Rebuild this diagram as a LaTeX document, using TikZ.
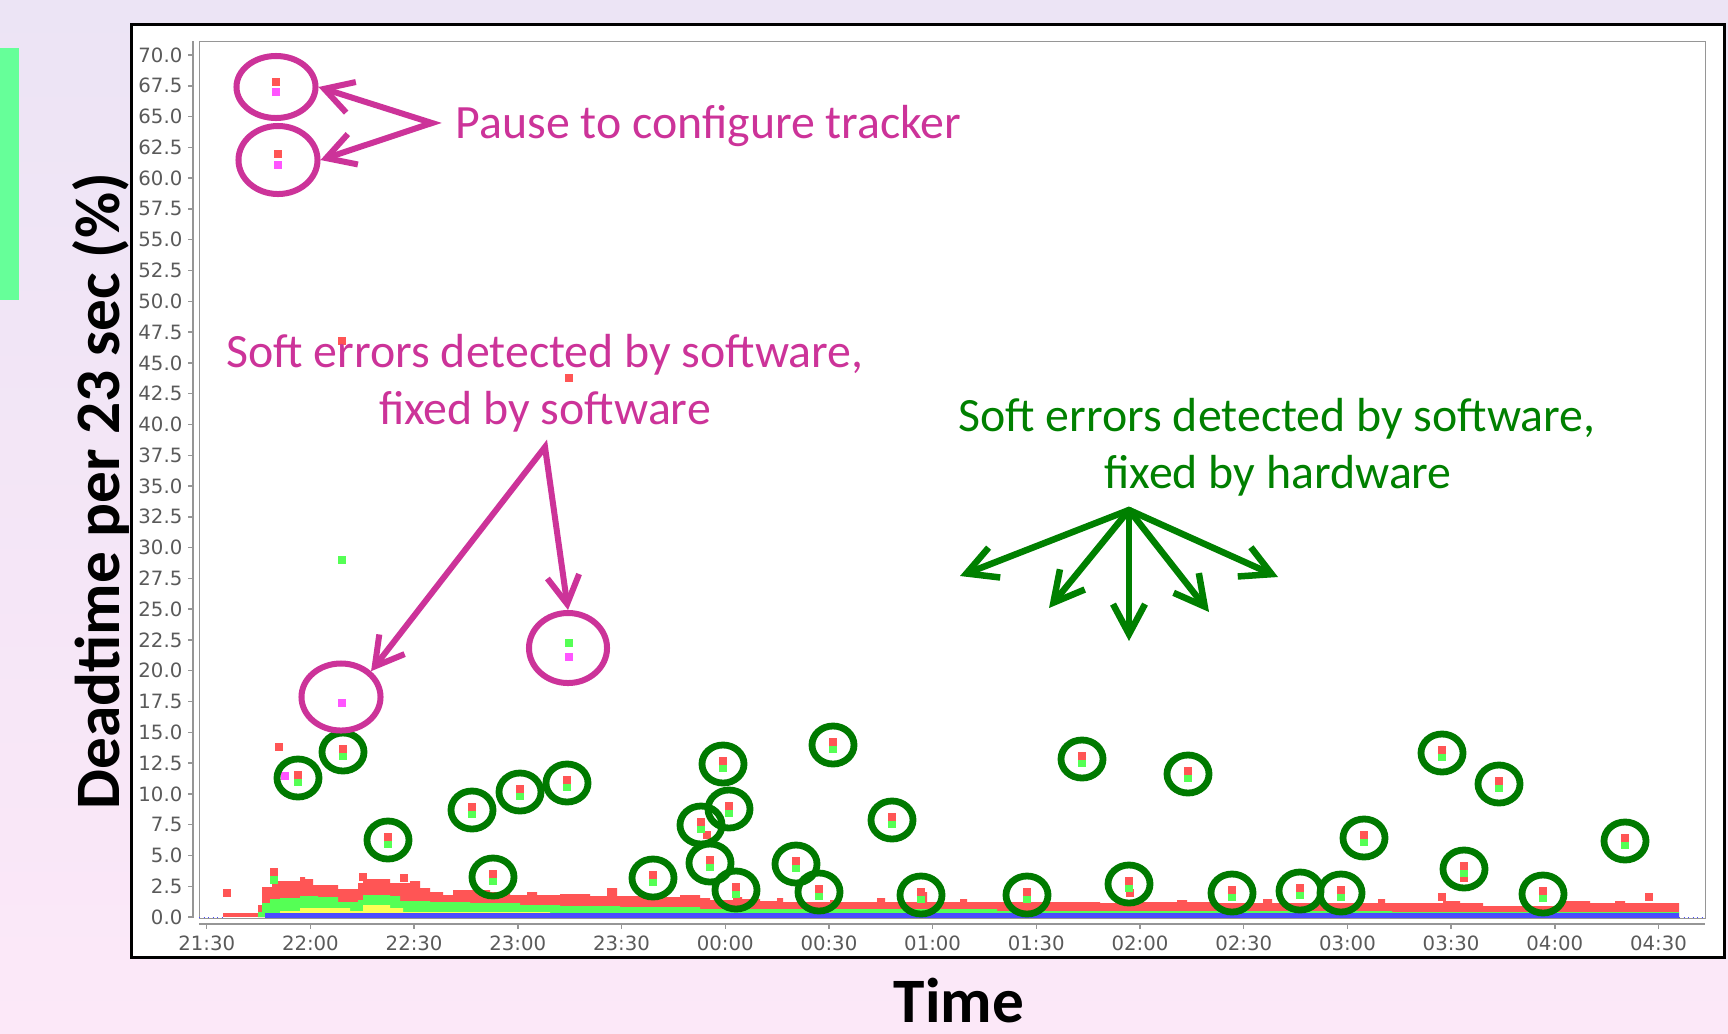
\documentclass[tikz,border=0pt]{standalone}
\usepackage{fontspec}
\setmainfont{Carlito}
\newfontfamily\tickfont{DejaVu Sans}
\usetikzlibrary{shapes.geometric,arrows.meta}

\definecolor{annmag}{RGB}{204,51,153}
\definecolor{anngrn}{RGB}{0,128,0}
\definecolor{ringgrn}{RGB}{0,122,0}
\definecolor{ptred}{RGB}{255,85,85}
\definecolor{ptgrn}{RGB}{85,255,85}
\definecolor{ptmag}{RGB}{255,85,255}
\definecolor{ptyel}{RGB}{255,255,85}
\definecolor{ptblu}{RGB}{75,75,255}
\definecolor{bgtop}{RGB}{236,228,245}
\definecolor{bgbot}{RGB}{252,232,248}
\definecolor{sidebar}{RGB}{102,255,153}
\definecolor{axgray}{RGB}{150,150,150}
\definecolor{labgray}{RGB}{90,90,90}

\tikzset{
  magring/.style={ellipse, draw=annmag, line width=0.06cm, inner sep=0pt, minimum width=0.79cm},
  magarrows/.style={draw=annmag, line width=0.06cm, line join=miter,
    {Straight Barb[length=0.28cm,width=0.32cm]}-{Straight Barb[length=0.28cm,width=0.32cm]}},
  grnarrow/.style={draw=anngrn, line width=0.065cm, line cap=round,
    -{Straight Barb[length=0.3cm,width=0.32cm]}},
  ring/.style={draw=ringgrn, line width=0.068cm},
  magtext/.style={text=annmag, font=\fontsize{13.6}{16}\selectfont, inner sep=0pt},
  grntext/.style={text=anngrn, font=\fontsize{13.6}{16}\selectfont, inner sep=0pt},
  ticklab/.style={text=labgray, font=\tickfont\fontsize{5.6}{6}\selectfont, inner sep=0pt},
  axtitle/.style={font=\bfseries\fontsize{18}{22}\selectfont, inner sep=0pt}
}

\begin{document}
\begin{tikzpicture}[x=0.01cm, y=-0.01cm]
\useasboundingbox (0,0) rectangle (1728,1033);
\shade[top color=bgtop, bottom color=bgbot] (0,0) rectangle (1728,1033);
\fill[sidebar] (0,48) rectangle (19,300);

% chart frame and plot area
\draw[line width=0.03cm, fill=white] (131,24) rectangle (1724,957);
\draw[axgray, line width=0.01cm] (199,41) rectangle (1705,918);
\draw[axgray, line width=0.012cm] (193,41) -- (193,918);
\draw[axgray, line width=0.012cm] (199,924) -- (1705,924);

% axis ticks
\foreach \v [count=\i] in {0,2.5,...,70}{
  \draw[axgray] (188,{917-12.314*\v}) -- (193,{917-12.314*\v});
  \node[ticklab, anchor=east] (ytick\i) at (183,{917-12.314*\v})
    {\pgfmathprintnumber[fixed,fixed zerofill,precision=1,assume math mode=true]{\v}};
}
\foreach \t [count=\i from 0] in {21:30,22:00,22:30,23:00,23:30,00:00,00:30,01:00,01:30,02:00,02:30,03:00,03:30,04:00,04:30}{
  \draw[axgray] ({206.7+103.7*\i},924) -- ++(0,5);
  \node[ticklab] (xtick\i) at ({206.7+103.7*\i},943) {\t};
}

% stacked deadtime band
\fill[ptred] (223,913) rectangle (265,917);
\fill[ptred] (258,917) \foreach \x/\y in {258/905,262/887,272/884,277/881,300/877,305/879,313/885,
  338/889,358/883,363/879,390/883,410/881,420/888,430/892,443/895,453/890,490/892,510/895,527/892,
  537/895,560/894,590/896,607/888,617/896,650/897,680/895,700/898,710/900,733/897,742/899,760/901,
  777/898,783/902,830/900,835/902,877/898,885/902,917/892,927/902,960/899,967/902,1100/903,1120/900,
  1130/902,1177/900,1187/902,1210/903,1263/899,1272/903,1378/899,1385/903,1443/901,1460/903,
  1483/906,1517/906,1563/901,1590/903,1615/901,1625/903}{ -| (\x,\y) } -| (1679,917) -- cycle;
\fill[ptgrn] (258,917) \foreach \x/\y in {258/912,262/903,270/899,280/898,300/896,318/897,338/902,
  358/900,363/895,390/896,400/901,430/902,470/903,520/905,560/906,620/907,700/909,997/911,
  1392/912}{ -| (\x,\y) } -| (1679,917) -- cycle;
\fill[ptyel] (280,917) \foreach \x/\y in {280/911,300/908,350/911,363/905,390/908,403/912}{ -| (\x,\y) }
  -| (550,917) -- cycle;
\fill[ptblu] (265,913) rectangle (1679,917.5);
\draw[ptblu, densely dotted, line width=0.01cm] (199,917) -- (223,917);
\draw[ptblu, densely dotted, line width=0.01cm] (1679,917) -- (1705,917);

% single data points
\foreach \c/\x/\y in {ptred/276/82,ptmag/276/92,ptred/278/154,ptmag/278/165,ptmag/342/703,
  ptgrn/569/643,ptmag/569/657,ptred/342/341,ptred/569/378,ptgrn/342/560,ptred/279/747,
  ptmag/285/776,ptred/227/893,ptred/274/872,ptgrn/274/880,ptred/363/877,ptred/404/878,
  ptred/707/835,ptred/1464/878,ptred/1130/893,ptred/1442/897,ptred/1649/897}
  \fill[\c] (\x-4,\y-4) rectangle ++(8,8);

% hardware-fixed errors
\foreach \x/\y in {298/778,343/752,388/840,472/810,493/877,520/792,567/783,653/878,701/825,
  723/764,729/809,710/863,736/890,796/864,819/892,833/745,892/820,921/895,1027/895,1082/759,
  1129/884,1188/774,1232/893,1300/891,1341/893,1364/838,1442/753,1464/869,1499/784,1543/894,
  1625/841}{
  \fill[ptred] (\x-4,\y-7) rectangle ++(8,8);
  \fill[ptgrn] (\x-4,\y+1) rectangle ++(8,7);
  \draw[ring] (\x,\y) ellipse [x radius=0.21cm, y radius=0.19cm];
}

% software-fixed errors and pauses
\node[magring, minimum height=0.62cm] (pause1) at (276,87) {};
\node[magring, minimum height=0.68cm] (pause2) at (278,160) {};
\node[magring, minimum height=0.67cm] (sw1) at (341,697) {};
\node[magring, minimum width=0.78cm, minimum height=0.70cm] (sw2) at (568,648) {};

% annotations
\node[magtext, anchor=base west] (pause) at (455,138) {Pause to configure tracker};
\node[magtext, anchor=base] (swfix1) at (545,367) {Soft errors detected by software,};
\node[magtext, anchor=base] (swfix2) at (545,424) {fixed by software};
\node[grntext, anchor=base] (hwfix1) at (1277,431) {Soft errors detected by software,};
\node[grntext, anchor=base] (hwfix2) at (1278,488) {fixed by hardware};

\node[axtitle, rotate=90, anchor=base] (ytitle) at (119,491) {Deadtime per 23 sec (\%)};
\node[axtitle, anchor=base] (xtitle) at (959,1022) {Time};

\coordinate (pauseapex) at (432,123);
\coordinate (swapex) at (545,447);
\coordinate (hwapex) at (1129,510);
\coordinate (hw1) at (960,576);
\coordinate (hw2) at (1049,608);
\coordinate (hw3) at (1129,641);
\coordinate (hw4) at (1209,612);
\coordinate (hw5) at (1278,577);

\draw[magarrows] (pause1.east) -- (pauseapex) -- (pause2.east);
\draw[magarrows] (sw1.north east) -- (swapex) -- (sw2.north);
\foreach \t in {hw1,hw2,hw3,hw4,hw5}
  \draw[grnarrow] (hwapex) -- (\t);
\end{tikzpicture}
\end{document}
